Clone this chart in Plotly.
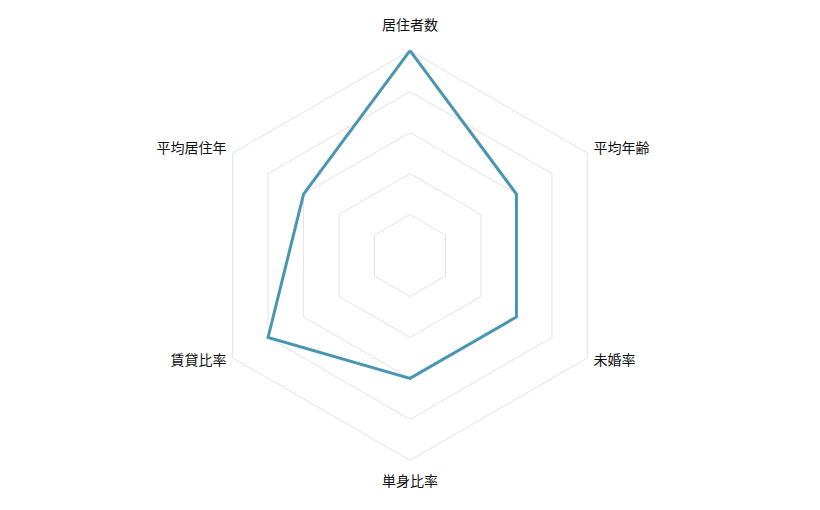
import plotly.graph_objects as go

# Axis labels (clockwise from top) and scores
categories = ['居住者数', '平均年齢', '未婚率', '単身比率', '賃貸比率', '平均居住年']
scores = [5, 3, 3, 3, 4, 3]
grid_levels = [1, 2, 3, 4, 5]

# close the loop
r_vals = scores + scores[:1]
theta_vals = categories + categories[:1]

# where the axis names sit (just outside the outer ring at 5)
label_r = [5.59, 5.17, 5.17, 5.54, 5.17, 5.17]
label_pos = ['middle center', 'middle right', 'middle right',
             'middle center', 'middle left', 'middle left']

fig = go.Figure()
fig.add_trace(go.Scatterpolar(
    r=r_vals,
    theta=theta_vals,
    mode='lines',
    line=dict(color='#4996b2', width=3),
    hoverinfo='skip',
))
fig.add_trace(go.Scatterpolar(
    r=label_r,
    theta=categories,
    mode='text',
    text=categories,
    textposition=label_pos,
    textfont=dict(family='Noto Sans CJK JP', size=14, color='#111111'),
    cliponaxis=False,
    hoverinfo='skip',
))

fig.update_layout(
    width=820,
    height=510,
    margin=dict(t=14, b=29, l=93, r=109),
    paper_bgcolor='white',
    plot_bgcolor='white',
    showlegend=False,
    font=dict(family='Noto Sans CJK JP', size=14, color='#111111'),
    polar=dict(
        bgcolor='white',
        gridshape='linear',
        radialaxis=dict(
            range=[0, 5.7],
            tickvals=grid_levels,
            showticklabels=False,
            ticks='',
            showline=False,
            gridcolor='#e3e3e3',
            gridwidth=1,
        ),
        angularaxis=dict(
            rotation=90,
            direction='clockwise',
            showgrid=False,
            showline=False,
            ticks='',
            showticklabels=False,
        ),
    ),
)

fig.write_html("out.html")
